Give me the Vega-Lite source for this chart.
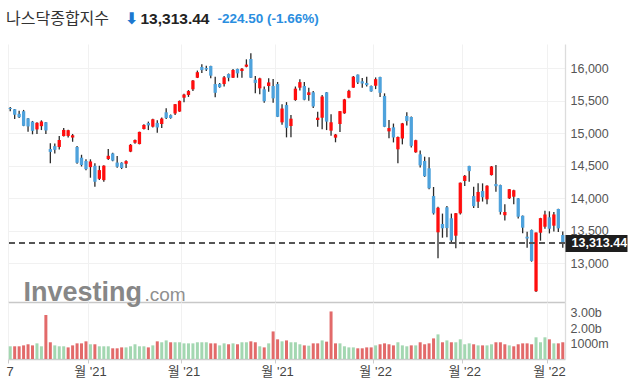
{
"$schema": "https://vega.github.io/schema/vega-lite/v6.json",
"background": "white",
"padding": {"top": 10, "left": 6, "right": 0, "bottom": 0},
"spacing": 0,
"bounds": "flush",
"config": {"view": {"stroke": null}, "concat": {"spacing": 0}},
"data": {"values": [
{"d":"2021-09-07","o":15390,"h":15403,"l":15340,"c":15374,"v":820},
{"d":"2021-09-08","o":15370,"h":15375,"l":15220,"c":15287,"v":820},
{"d":"2021-09-09","o":15300,"h":15348,"l":15235,"c":15248,"v":820},
{"d":"2021-09-10","o":15340,"h":15360,"l":15110,"c":15115,"v":880},
{"d":"2021-09-13","o":15230,"h":15235,"l":15025,"c":15106,"v":950},
{"d":"2021-09-14","o":15180,"h":15190,"l":14985,"c":15038,"v":880},
{"d":"2021-09-15","o":15060,"h":15170,"l":14990,"c":15162,"v":1010},
{"d":"2021-09-16","o":15110,"h":15200,"l":15050,"c":15182,"v":820},
{"d":"2021-09-17","o":15170,"h":15175,"l":14990,"c":15044,"v":2840},
{"d":"2021-09-20","o":14758,"h":14846,"l":14538,"c":14714,"v":1080},
{"d":"2021-09-21","o":14803,"h":14843,"l":14690,"c":14746,"v":880},
{"d":"2021-09-22","o":14790,"h":14960,"l":14750,"c":14897,"v":820},
{"d":"2021-09-23","o":14958,"h":15080,"l":14950,"c":15052,"v":820},
{"d":"2021-09-24","o":14960,"h":15055,"l":14935,"c":15048,"v":750},
{"d":"2021-09-27","o":14935,"h":14990,"l":14870,"c":14970,"v":880},
{"d":"2021-09-28","o":14790,"h":14805,"l":14530,"c":14547,"v":1010},
{"d":"2021-09-29","o":14625,"h":14670,"l":14490,"c":14512,"v":1010},
{"d":"2021-09-30","o":14575,"h":14600,"l":14430,"c":14449,"v":1140},
{"d":"2021-10-01","o":14480,"h":14600,"l":14317,"c":14567,"v":950},
{"d":"2021-10-04","o":14500,"h":14540,"l":14178,"c":14255,"v":950},
{"d":"2021-10-05","o":14300,"h":14500,"l":14280,"c":14434,"v":820},
{"d":"2021-10-06","o":14280,"h":14510,"l":14255,"c":14502,"v":820},
{"d":"2021-10-07","o":14605,"h":14758,"l":14590,"c":14654,"v":820},
{"d":"2021-10-08","o":14690,"h":14700,"l":14570,"c":14580,"v":690},
{"d":"2021-10-11","o":14550,"h":14650,"l":14470,"c":14486,"v":690},
{"d":"2021-10-12","o":14548,"h":14555,"l":14450,"c":14466,"v":750},
{"d":"2021-10-13","o":14532,"h":14585,"l":14467,"c":14572,"v":750},
{"d":"2021-10-14","o":14718,"h":14835,"l":14710,"c":14823,"v":820},
{"d":"2021-10-15","o":14855,"h":14905,"l":14840,"c":14897,"v":950},
{"d":"2021-10-18","o":14835,"h":15025,"l":14830,"c":15022,"v":820},
{"d":"2021-10-19","o":15066,"h":15140,"l":15060,"c":15129,"v":820},
{"d":"2021-10-20","o":15158,"h":15180,"l":15050,"c":15122,"v":750},
{"d":"2021-10-21","o":15102,"h":15225,"l":15090,"c":15216,"v":880},
{"d":"2021-10-22","o":15160,"h":15200,"l":15010,"c":15090,"v":1140},
{"d":"2021-10-25","o":15143,"h":15245,"l":15080,"c":15227,"v":1080},
{"d":"2021-10-26","o":15323,"h":15385,"l":15220,"c":15236,"v":1200},
{"d":"2021-10-27","o":15280,"h":15290,"l":15225,"c":15235,"v":1080},
{"d":"2021-10-28","o":15305,"h":15450,"l":15280,"c":15448,"v":1080},
{"d":"2021-10-29","o":15335,"h":15505,"l":15330,"c":15498,"v":1080},
{"d":"2021-11-01","o":15548,"h":15610,"l":15477,"c":15596,"v":1010},
{"d":"2021-11-02","o":15590,"h":15665,"l":15560,"c":15650,"v":1010},
{"d":"2021-11-03","o":15677,"h":15820,"l":15650,"c":15812,"v":1010},
{"d":"2021-11-04","o":15855,"h":15965,"l":15850,"c":15940,"v":1080},
{"d":"2021-11-05","o":16020,"h":16061,"l":15928,"c":15972,"v":1080},
{"d":"2021-11-08","o":16005,"h":16040,"l":15960,"c":15982,"v":1080},
{"d":"2021-11-09","o":16035,"h":16040,"l":15846,"c":15887,"v":1010},
{"d":"2021-11-10","o":15758,"h":15871,"l":15554,"c":15623,"v":1010},
{"d":"2021-11-11","o":15760,"h":15775,"l":15700,"c":15710,"v":880},
{"d":"2021-11-12","o":15758,"h":15880,"l":15720,"c":15861,"v":1010},
{"d":"2021-11-15","o":15912,"h":15920,"l":15800,"c":15854,"v":950},
{"d":"2021-11-16","o":15855,"h":15990,"l":15850,"c":15974,"v":1010},
{"d":"2021-11-17","o":15990,"h":15995,"l":15855,"c":15922,"v":950},
{"d":"2021-11-18","o":15958,"h":16005,"l":15855,"c":15994,"v":1080},
{"d":"2021-11-19","o":16025,"h":16138,"l":16015,"c":16057,"v":1080},
{"d":"2021-11-22","o":16143,"h":16230,"l":15850,"c":15855,"v":1140},
{"d":"2021-11-23","o":15825,"h":15880,"l":15615,"c":15775,"v":1080},
{"d":"2021-11-24","o":15692,"h":15855,"l":15600,"c":15845,"v":820},
{"d":"2021-11-26","o":15677,"h":15720,"l":15470,"c":15492,"v":750},
{"d":"2021-11-29","o":15728,"h":15846,"l":15640,"c":15783,"v":1010},
{"d":"2021-11-30","o":15728,"h":15835,"l":15470,"c":15538,"v":1780},
{"d":"2021-12-01","o":15758,"h":15790,"l":15250,"c":15254,"v":1270},
{"d":"2021-12-02","o":15169,"h":15446,"l":15130,"c":15381,"v":1140},
{"d":"2021-12-03","o":15435,"h":15480,"l":14938,"c":15085,"v":1200},
{"d":"2021-12-06","o":15112,"h":15280,"l":14938,"c":15225,"v":1080},
{"d":"2021-12-07","o":15512,"h":15720,"l":15500,"c":15687,"v":1080},
{"d":"2021-12-08","o":15702,"h":15830,"l":15660,"c":15787,"v":950},
{"d":"2021-12-09","o":15728,"h":15790,"l":15510,"c":15517,"v":880},
{"d":"2021-12-10","o":15589,"h":15700,"l":15500,"c":15631,"v":860},
{"d":"2021-12-13","o":15631,"h":15650,"l":15390,"c":15413,"v":1010},
{"d":"2021-12-14","o":15205,"h":15330,"l":15102,"c":15240,"v":1010},
{"d":"2021-12-15","o":15240,"h":15590,"l":15062,"c":15566,"v":1200},
{"d":"2021-12-16","o":15631,"h":15635,"l":15050,"c":15180,"v":1120},
{"d":"2021-12-17","o":15041,"h":15292,"l":14963,"c":15170,"v":3070},
{"d":"2021-12-20","o":14933,"h":14990,"l":14862,"c":14981,"v":1010},
{"d":"2021-12-21","o":15143,"h":15345,"l":15020,"c":15341,"v":1010},
{"d":"2021-12-22","o":15308,"h":15530,"l":15300,"c":15522,"v":820},
{"d":"2021-12-23","o":15548,"h":15670,"l":15540,"c":15653,"v":750},
{"d":"2021-12-27","o":15702,"h":15880,"l":15700,"c":15871,"v":750},
{"d":"2021-12-28","o":15903,"h":15905,"l":15760,"c":15782,"v":690},
{"d":"2021-12-29","o":15800,"h":15850,"l":15700,"c":15766,"v":690},
{"d":"2021-12-30","o":15775,"h":15870,"l":15720,"c":15742,"v":750},
{"d":"2021-12-31","o":15728,"h":15735,"l":15640,"c":15645,"v":750},
{"d":"2022-01-03","o":15732,"h":15860,"l":15680,"c":15833,"v":880},
{"d":"2022-01-04","o":15866,"h":15870,"l":15560,"c":15623,"v":950},
{"d":"2022-01-05","o":15575,"h":15615,"l":15095,"c":15100,"v":1010},
{"d":"2022-01-06","o":15030,"h":15205,"l":14923,"c":15081,"v":950},
{"d":"2022-01-07","o":15092,"h":15150,"l":14860,"c":14936,"v":880},
{"d":"2022-01-10","o":14754,"h":14950,"l":14538,"c":14943,"v":1080},
{"d":"2022-01-11","o":14920,"h":15160,"l":14830,"c":15153,"v":880},
{"d":"2022-01-12","o":15266,"h":15323,"l":15120,"c":15188,"v":820},
{"d":"2022-01-13","o":15251,"h":15260,"l":14780,"c":14807,"v":880},
{"d":"2022-01-14","o":14708,"h":14900,"l":14700,"c":14894,"v":880},
{"d":"2022-01-18","o":14677,"h":14735,"l":14475,"c":14507,"v":1080},
{"d":"2022-01-19","o":14574,"h":14640,"l":14330,"c":14340,"v":950},
{"d":"2022-01-20","o":14462,"h":14631,"l":14140,"c":14154,"v":1010},
{"d":"2022-01-21","o":14035,"h":14174,"l":13750,"c":13769,"v":1330},
{"d":"2022-01-24","o":13477,"h":13870,"l":13077,"c":13855,"v":1590},
{"d":"2022-01-25","o":13605,"h":13765,"l":13394,"c":13539,"v":1080},
{"d":"2022-01-26","o":13862,"h":13880,"l":13400,"c":13542,"v":1200},
{"d":"2022-01-27","o":13693,"h":13765,"l":13320,"c":13353,"v":1080},
{"d":"2022-01-28","o":13425,"h":13775,"l":13231,"c":13771,"v":1080},
{"d":"2022-01-31","o":13769,"h":14245,"l":13750,"c":14240,"v":1270},
{"d":"2022-02-01","o":14266,"h":14360,"l":14190,"c":14346,"v":950},
{"d":"2022-02-02","o":14497,"h":14500,"l":14255,"c":14418,"v":1010},
{"d":"2022-02-03","o":14035,"h":14178,"l":13850,"c":13879,"v":950},
{"d":"2022-02-04","o":13948,"h":14230,"l":13850,"c":14098,"v":880},
{"d":"2022-02-07","o":14112,"h":14230,"l":13950,"c":14016,"v":880},
{"d":"2022-02-08","o":13985,"h":14200,"l":13910,"c":14194,"v":880},
{"d":"2022-02-09","o":14358,"h":14497,"l":14350,"c":14490,"v":950},
{"d":"2022-02-10","o":14220,"h":14512,"l":14101,"c":14186,"v":1080},
{"d":"2022-02-11","o":14204,"h":14210,"l":13750,"c":13791,"v":1080},
{"d":"2022-02-14","o":13740,"h":13908,"l":13660,"c":13790,"v":950},
{"d":"2022-02-15","o":14000,"h":14145,"l":13990,"c":14140,"v":880},
{"d":"2022-02-16","o":14025,"h":14130,"l":13910,"c":14124,"v":820},
{"d":"2022-02-17","o":14000,"h":14005,"l":13690,"c":13717,"v":950},
{"d":"2022-02-18","o":13732,"h":13735,"l":13462,"c":13548,"v":1010},
{"d":"2022-02-22","o":13409,"h":13487,"l":13241,"c":13382,"v":1010},
{"d":"2022-02-23","o":13512,"h":13520,"l":13025,"c":13037,"v":950},
{"d":"2022-02-24","o":12570,"h":13474,"l":12560,"c":13474,"v":1400},
{"d":"2022-02-25","o":13471,"h":13700,"l":13348,"c":13695,"v":1080},
{"d":"2022-02-28","o":13563,"h":13810,"l":13530,"c":13751,"v":1400},
{"d":"2022-03-01","o":13708,"h":13800,"l":13460,"c":13532,"v":1270},
{"d":"2022-03-02","o":13579,"h":13790,"l":13490,"c":13752,"v":1010},
{"d":"2022-03-03","o":13836,"h":13840,"l":13480,"c":13538,"v":1010},
{"d":"2022-03-04","o":13435,"h":13490,"l":13240,"c":13313.44,"v":1080}
]},
"vconcat": [
{
"width": 557, "height": 258,
"title": {"text": "나스닥종합지수", "anchor": "start", "frame": "group", "dx": -2, "dy": 51, "offset": 21, "baseline": "alphabetic", "font": "Noto Sans CJK KR", "fontSize": 16, "fontWeight": "normal", "color": "#333333"},
"layer": [
{
"encoding": {"x": {"field": "d", "type": "ordinal", "scale": {"paddingInner": 0, "paddingOuter": 0},
  "axis": {"orient": "bottom", "values": ["2021-09-07","2021-10-01","2021-11-01","2021-12-01","2022-01-03","2022-02-01","2022-03-01"], "bandPosition": 0, "labels": false, "ticks": false, "grid": true, "gridColor": "#f1f1f1", "domain": true, "domainColor": "#c8c8c8", "domainWidth": 1.5,
   "title": "⬇", "titleX": 123, "titleY": -279, "titleAlign": "center", "titleAngle": 0, "titleBaseline": "alphabetic", "titleFont": "DejaVu Sans", "titleFontSize": 16, "titleFontWeight": "bold", "titleColor": "#1c78d0"}}},
"layer": [
{"mark": {"type": "rule", "color": "#2a2a2a", "strokeWidth": 1.3},
 "encoding": {
  "y": {"field": "l", "type": "quantitative", "scale": {"domain": [12405, 16374], "zero": false, "nice": false},
   "axis": {"orient": "right", "values": [13000,13500,14000,14500,15000,15500,16000], "labelExpr": "format(datum.value, ',')", "labelFont": "Liberation Sans", "labelFontSize": 12.5, "labelColor": "#555555", "labelPadding": 5, "ticks": false, "domain": true, "domainColor": "#dcdcdc", "domainWidth": 1.3, "grid": true, "gridColor": "#f1f1f1", "labelOverlap": false,
    "title": "13,313.44", "titleX": -425, "titleY": -21, "titleAlign": "left", "titleAngle": 0, "titleBaseline": "alphabetic", "titleFont": "Liberation Sans", "titleFontSize": 15.5, "titleFontWeight": "bold", "titleColor": "#222222"}},
  "y2": {"field": "h"}}},
{"mark": {"type": "bar", "width": 3.3},
 "encoding": {
  "y": {"field": "o", "type": "quantitative", "scale": {"domain": [12405, 16374], "zero": false, "nice": false},
   "axis": {"orient": "right", "values": [13000,13500,14000,14500,15000,15500,16000], "labelExpr": "format(datum.value, ',')", "labelFont": "Liberation Sans", "labelFontSize": 12.5, "labelColor": "#555555", "labelPadding": 5, "ticks": false, "domain": true, "domainColor": "#dcdcdc", "domainWidth": 1.3, "grid": true, "gridColor": "#f1f1f1", "labelOverlap": false,
    "title": "13,313.44", "titleX": -425, "titleY": -21, "titleAlign": "left", "titleAngle": 0, "titleBaseline": "alphabetic", "titleFont": "Liberation Sans", "titleFontSize": 15.5, "titleFontWeight": "bold", "titleColor": "#222222"}},
  "y2": {"field": "c"},
  "color": {"condition": {"test": "datum.c >= datum.o", "value": "#ff0d0d"}, "value": "#4ea2dc"}}}
]
},
{"mark": {"type": "rule", "color": "#555555", "strokeDash": [6, 4], "strokeWidth": 1.3},
 "encoding": {"y": {"datum": 13313.44, "type": "quantitative", "scale": {"domain": [12405, 16374], "zero": false, "nice": false},
  "axis": {"orient": "right", "values": [13313.44], "labelExpr": "format(datum.value, ',.2f')", "labelFont": "Liberation Sans", "labelFontSize": 12.5, "labelFontWeight": "bold", "labelColor": "#ffffff", "labelPadding": -56, "ticks": true, "tickSize": 62, "tickWidth": 17, "tickColor": "#1e1e1e", "tickCap": "butt", "domain": false, "grid": false, "labelBound": false, "labelOverlap": false,
   "title": "-224.50  (-1.66%)", "titleX": -348, "titleY": -21.5, "titleAlign": "left", "titleAngle": 0, "titleBaseline": "alphabetic", "titleFont": "Liberation Sans", "titleFontSize": 13.5, "titleFontWeight": "bold", "titleColor": "#2a8ee0"}}}}
],
"resolve": {"axis": {"y": "independent"}}
},
{
"width": 557, "height": 57,
"transform": [{"window": [{"op": "lag", "field": "c", "as": "pc"}], "sort": [{"field": "d"}]}],
"mark": {"type": "bar", "width": 3},
"encoding": {
 "x": {"field": "d", "type": "ordinal", "scale": {"paddingInner": 0, "paddingOuter": 0},
  "axis": {"values": ["2021-09-07","2021-10-01","2021-11-01","2021-12-01","2022-01-03","2022-02-01","2022-03-01"], "bandPosition": 0, "labelExpr": "datum.value == '2021-09-07' ? '7' : \"월 '\" + substring(datum.value, 2, 4)", "labelFont": "Liberation Sans, Noto Sans CJK KR", "labelFontSize": 13, "labelColor": "#444444", "labelAngle": 0, "labelPadding": 2, "labelOverlap": false, "labelBound": false, "ticks": true, "tickSize": 4, "tickColor": "#cccccc", "domain": true, "domainColor": "#cccccc", "domainWidth": 1.3, "grid": true, "gridColor": "#f1f1f1",
   "title": ".com", "titleX": 136, "titleY": -58.8, "titleAlign": "left", "titleAngle": 0, "titleBaseline": "alphabetic", "titleFont": "Liberation Sans", "titleFontSize": 19, "titleFontWeight": "normal", "titleColor": "#8f8f8f"}},
 "y": {"field": "v", "type": "quantitative", "scale": {"domain": [0, 3680], "nice": false},
  "axis": {"orient": "right", "values": [1000, 2000, 3000], "labelExpr": "datum.value < 1500 ? format(datum.value, 'd') + 'm' : format(datum.value / 1000, '.2f') + 'b'", "labelFont": "Liberation Sans", "labelFontSize": 12.5, "labelColor": "#555555", "labelPadding": 5, "ticks": false, "domain": true, "domainColor": "#dcdcdc", "domainWidth": 1.3, "grid": false,
   "title": "Investing", "titleX": -542, "titleY": -1.5, "titleAlign": "left", "titleAngle": 0, "titleBaseline": "alphabetic", "titleFont": "Liberation Sans", "titleFontSize": 27, "titleFontWeight": "bold", "titleColor": "#878787"}},
 "color": {"condition": {"test": "datum.pc == null || datum.c >= datum.pc", "value": "#a3d7b1"}, "value": "#e26a6a"}
}
}
]
}
